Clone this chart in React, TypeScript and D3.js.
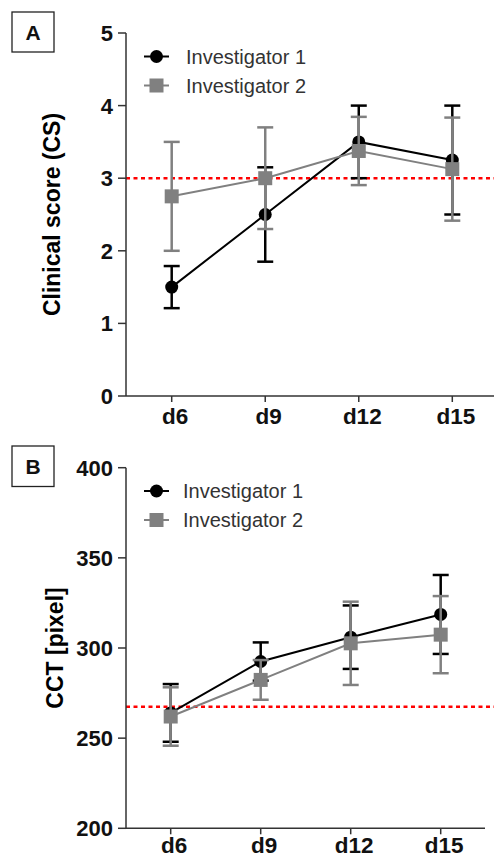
import React from "react";
import * as d3 from "d3";

const days = ["d6", "d9", "d12", "d15"];

// Panel A: Clinical score
const csInv1Mean = [1.5, 2.5, 3.5, 3.25];
const csInv1Err = [0.29, 0.65, 0.5, 0.75];
const csInv2Mean = [2.75, 3.0, 3.375, 3.125];
const csInv2Err = [0.75, 0.7, 0.47, 0.71];
const csTicks = [0, 1, 2, 3, 4, 5];
const csRef = 3;

// Panel B: CCT
const cctInv1Mean = [264, 292.5, 306, 318.6];
const cctInv1Err = [16, 10.6, 17.6, 21.9];
const cctInv2Mean = [262, 282.3, 302.6, 307.4];
const cctInv2Err = [16.2, 11, 23.1, 21.4];
const cctTicks = [200, 250, 300, 350, 400];
const cctRef = 267.4;

const seriesNames = ["Investigator 1", "Investigator 2"];

const FONT = "'Liberation Sans', Arial, sans-serif";
const AXIS = "#333";
const BLACK = "#000";
const GRAY = "#808080";

type PanelProps = {
  label: string;
  yLabel: string;
  domain: [number, number];
  ticks: number[];
  yRange: [number, number];
  xRange: [number, number];
  axisEnd: number;
  refValue: number;
  s1: number[];
  e1: number[];
  s2: number[];
  e2: number[];
  box: [number, number, number, number];
  legendY: [number, number];
  legendTextX: number;
  yLabelX: number;
  xLabelDy: number;
};

function Panel(p: PanelProps) {
  const y = d3.scaleLinear().domain(p.domain).range(p.yRange);
  const x = d3.scalePoint<string>().domain(days).range(p.xRange);
  const axisX = 126;
  const yBottom = p.yRange[0];
  const yTop = p.yRange[1];
  const line = d3
    .line<number>()
    .x((_, i) => x(days[i]) as number)
    .y((d) => y(d));

  const errBars = (m: number[], e: number[], color: string, w: number) =>
    m.map((v, i) => {
      const cx = x(days[i]) as number;
      const hi = y(v + e[i]);
      const lo = y(v - e[i]);
      return (
        <g key={i} stroke={color} strokeWidth={w}>
          <line x1={cx} x2={cx} y1={hi} y2={lo} />
          <line x1={cx - 8} x2={cx + 8} y1={hi} y2={hi} />
          <line x1={cx - 8} x2={cx + 8} y1={lo} y2={lo} />
        </g>
      );
    });

  const yMid = (yTop + yBottom) / 2;

  return (
    <g>
      <rect
        x={p.box[0]}
        y={p.box[1]}
        width={p.box[2]}
        height={p.box[3]}
        fill="#fff"
        stroke="#222"
        strokeWidth={1.3}
      />
      <text
        x={p.box[0] + p.box[2] / 2}
        y={p.box[1] + p.box[3] / 2 + 7.5}
        textAnchor="middle"
        fontFamily={FONT}
        fontWeight="bold"
        fontSize={21}
        fill="#111"
      >
        {p.label}
      </text>

      <line
        x1={axisX}
        x2={494}
        y1={y(p.refValue)}
        y2={y(p.refValue)}
        stroke="#ff0000"
        strokeWidth={2.5}
        strokeDasharray="4,3.5"
      />

      <line x1={axisX} x2={axisX} y1={yTop} y2={yBottom} stroke={AXIS} strokeWidth={1.5} />
      {p.ticks.map((t) => (
        <g key={t}>
          <line x1={axisX - 8} x2={axisX} y1={y(t)} y2={y(t)} stroke={AXIS} strokeWidth={1.5} />
          <text
            x={113}
            y={y(t) + 8}
            textAnchor="end"
            fontFamily={FONT}
            fontWeight="bold"
            fontSize={22}
            fill="#111"
          >
            {t}
          </text>
        </g>
      ))}
      <text
        transform={`translate(${p.yLabelX},${yMid}) rotate(-90)`}
        textAnchor="middle"
        fontFamily={FONT}
        fontWeight="bold"
        fontSize={23}
        fill="#000"
      >
        {p.yLabel}
      </text>

      <line x1={axisX} x2={p.axisEnd} y1={yBottom} y2={yBottom} stroke={AXIS} strokeWidth={1.5} />
      {days.map((d) => (
        <g key={d}>
          <line
            x1={x(d) as number}
            x2={x(d) as number}
            y1={yBottom}
            y2={yBottom + 6}
            stroke={AXIS}
            strokeWidth={1.5}
          />
          <text
            x={(x(d) as number) + 3.5}
            y={yBottom + p.xLabelDy}
            textAnchor="middle"
            fontFamily={FONT}
            fontWeight="bold"
            fontSize={22.5}
            fill="#111"
          >
            {d}
          </text>
        </g>
      ))}

      {errBars(p.s1, p.e1, BLACK, 2.5)}
      <path d={line(p.s1) as string} fill="none" stroke={BLACK} strokeWidth={2} />
      {p.s1.map((v, i) => (
        <circle key={i} cx={x(days[i]) as number} cy={y(v)} r={6.5} fill={BLACK} />
      ))}

      {errBars(p.s2, p.e2, GRAY, 2.5)}
      <path d={line(p.s2) as string} fill="none" stroke={GRAY} strokeWidth={2} />
      {p.s2.map((v, i) => (
        <rect
          key={i}
          x={(x(days[i]) as number) - 7}
          y={y(v) - 7}
          width={14}
          height={14}
          fill={GRAY}
        />
      ))}

      {seriesNames.map((n, i) => {
        const ly = p.legendY[i];
        const color = i === 0 ? BLACK : GRAY;
        return (
          <g key={n}>
            <line x1={144} x2={169} y1={ly} y2={ly} stroke={color} strokeWidth={2} />
            {i === 0 ? (
              <circle cx={156.5} cy={ly} r={6.5} fill={color} />
            ) : (
              <rect x={149.5} y={ly - 7} width={14} height={14} fill={color} />
            )}
            <text x={p.legendTextX} y={ly + 7} fontFamily={FONT} fontSize={20} fill="#333">
              {n}
            </text>
          </g>
        );
      })}
    </g>
  );
}

export default function App() {
  return (
    <svg
      width={494}
      height={859}
      style={{ position: "absolute", left: 0, top: 0, background: "#fff" }}
    >
      <rect x={0} y={0} width={494} height={859} fill="#fff" />
      <Panel
        label="A"
        yLabel="Clinical score (CS)"
        domain={[0, 5]}
        ticks={csTicks}
        yRange={[396, 33]}
        xRange={[171.7, 452.3]}
        axisEnd={494}
        refValue={csRef}
        s1={csInv1Mean}
        e1={csInv1Err}
        s2={csInv2Mean}
        e2={csInv2Err}
        box={[12, 12, 42, 40]}
        legendY={[56.5, 85.5]}
        legendTextX={186}
        yLabelX={60}
        xLabelDy={28}
      />
      <Panel
        label="B"
        yLabel="CCT [pixel]"
        domain={[200, 400]}
        ticks={cctTicks}
        yRange={[828.3, 467.7]}
        xRange={[170.7, 440.7]}
        axisEnd={485}
        refValue={cctRef}
        s1={cctInv1Mean}
        e1={cctInv1Err}
        s2={cctInv2Mean}
        e2={cctInv2Err}
        box={[12, 446, 42, 40.5]}
        legendY={[491, 520]}
        legendTextX={183}
        yLabelX={63}
        xLabelDy={25}
      />
    </svg>
  );
}
